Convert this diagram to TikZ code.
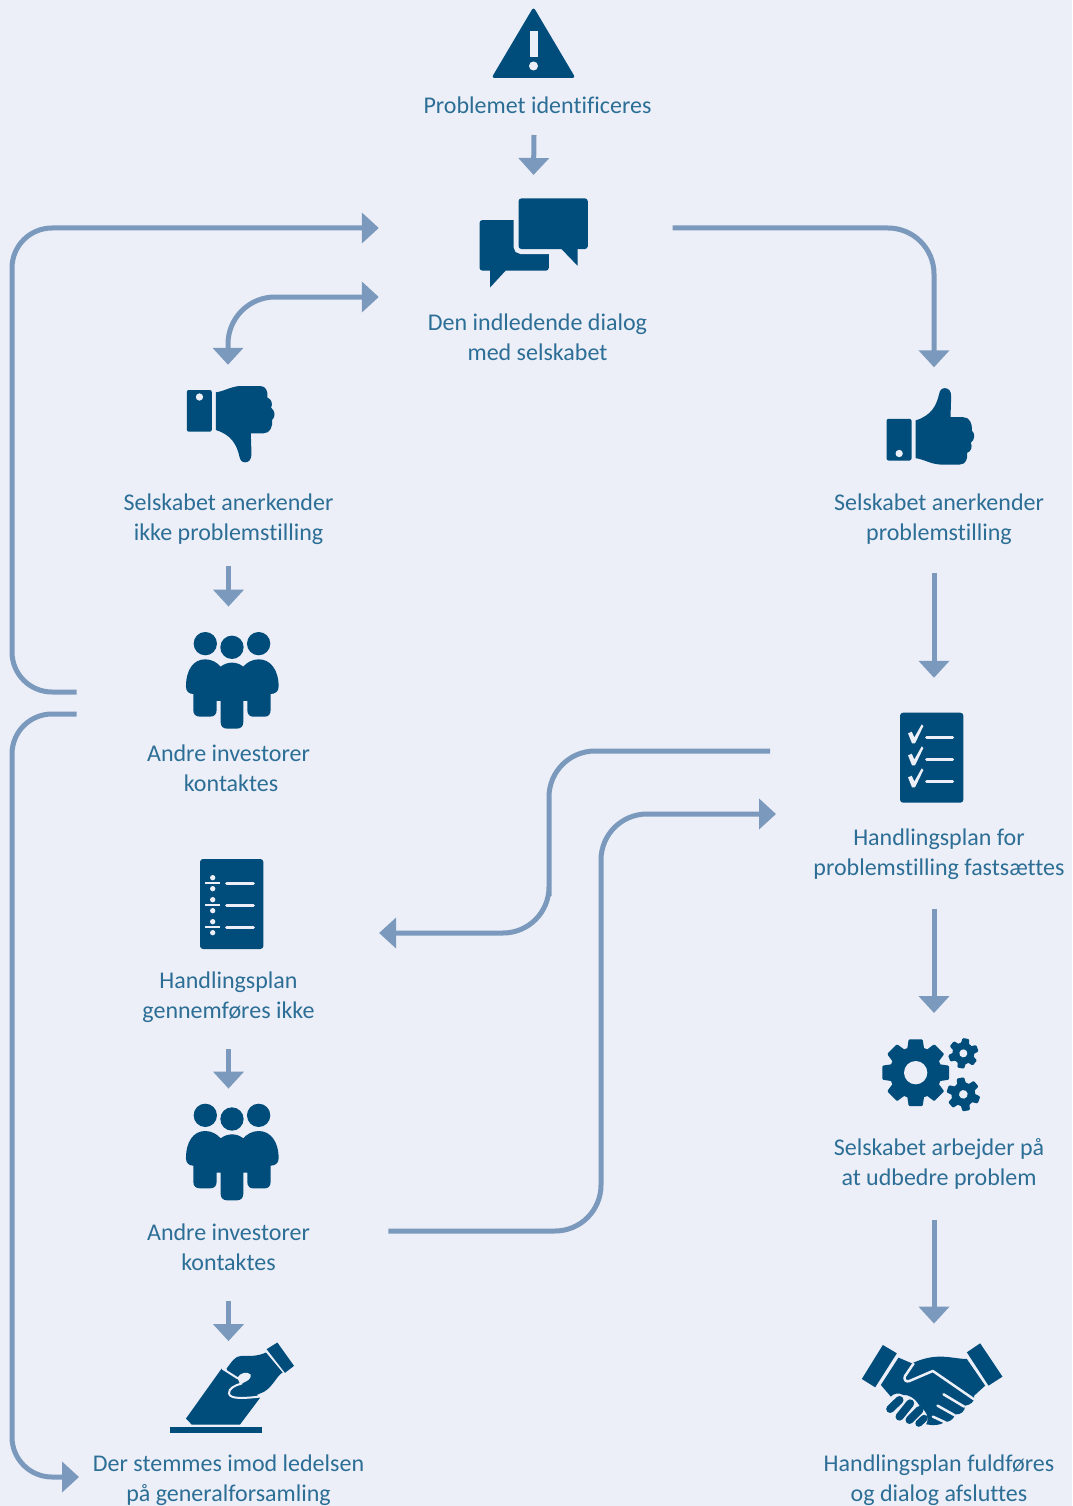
\documentclass[tikz,border=0pt]{standalone}
\usepackage{fontspec}
\setmainfont[Ligatures=NoCommon]{Carlito}
\usetikzlibrary{positioning}
\usetikzlibrary{arrows.meta}
\definecolor{bgblue}{HTML}{ECEFF7}
\definecolor{inkblue}{HTML}{004C7A}
\definecolor{flowblue}{HTML}{7B99BC}
\definecolor{txtblue}{HTML}{2C6E96}
\tikzset{
  txt/.style={align=center,inner sep=0pt,text=txtblue,font=\fontsize{24}{30}\selectfont},
  icon/.style={inner sep=0pt,minimum width=#1},
  flow/.style={->,>={Triangle[length=17pt,width=30pt]},line width=5pt,color=flowblue},
  pics/warnicon/.style={code={
    \fill[inkblue,rounded corners=3pt] (0,-36) -- (-42,35) -- (42,35) -- cycle;
    \fill[bgblue] (-4,-12) rectangle (4,14);
    \fill[bgblue] (0,23) circle (4.5);
  }},
  pics/dialogicon/.style={code={
    \begin{scope}[scale=1/3,shift={(-340,-728)}]
      \fill[inkblue,rounded corners=3pt] (178,660) rectangle (386,812);
      \fill[inkblue] (258,810) -- (210,862) -- (210,810) -- cycle;
      \draw[bgblue,line width=10pt,rounded corners=3pt] (295,595) rectangle (503,747);
      \fill[inkblue,rounded corners=3pt] (295,595) rectangle (503,747);
      \fill[inkblue] (422,745) -- (472,797) -- (472,745) -- cycle;
    \end{scope}
  }},
  pics/thumbicon/.style={code={
    \begin{scope}[scale=1/3,shift={(-212,-147)}]
      \fill[inkblue,rounded corners=2pt] (80,45) rectangle (155,170);
      \fill[bgblue] (118,66) circle (11);
      \fill[inkblue] (167,52) .. controls (195,48) and (210,35) .. (240,33) -- (300,33)
        .. controls (318,33) and (324,50) .. (322,68) .. controls (335,72) and (338,88) .. (333,98)
        .. controls (345,108) and (347,125) .. (336,135) .. controls (338,155) and (330,175) .. (310,175)
        -- (272,175) -- (274,235) .. controls (275,255) and (265,262) .. (255,262)
        .. controls (245,262) and (240,255) .. (238,245) .. controls (230,210) and (215,180) .. (167,165) -- cycle;
    \end{scope}
  }},
  pics/peopleicon/.style={code={
    \begin{scope}[scale=1/3,shift={(-217,-181)}]
      \fill[inkblue] (136,71) circle (35);
      \fill[inkblue] (296,71) circle (35);
      \fill[inkblue] (216,82) circle (35);
      \fill[inkblue] (78,200) .. controls (78,150) and (100,118) .. (136,118)
        .. controls (155,118) and (172,128) .. (182,140) .. controls (192,132) and (205,128) .. (216,128)
        .. controls (228,128) and (240,132) .. (250,140) .. controls (260,128) and (277,118) .. (296,118)
        .. controls (332,118) and (356,150) .. (356,200) .. controls (356,215) and (345,222) .. (332,222)
        -- (332,270) .. controls (332,283) and (325,290) .. (315,290) -- (279,290)
        .. controls (269,290) and (262,283) .. (262,270) -- (262,243) -- (250,243) -- (250,306)
        .. controls (250,319) and (243,326) .. (230,326) -- (202,326) .. controls (189,326) and (182,319) .. (182,306)
        -- (182,243) -- (170,243) -- (170,270) .. controls (170,283) and (163,290) .. (150,290) -- (120,290)
        .. controls (107,290) and (100,283) .. (100,270) -- (100,222) .. controls (88,222) and (78,215) .. (78,200) -- cycle;
    \end{scope}
  }},
  pics/checkicon/.style={code={
    \begin{scope}[scale=1/3,shift={(-185,-173)}]
      \fill[inkblue,rounded corners=3pt] (90,38) rectangle (280,308);
      \fill[bgblue] (114,100) -- (125,95) -- (133,112) -- (155,73) -- (160,78) -- (135,130) -- (126,130) -- cycle;
      \fill[bgblue] (114,166) -- (125,161) -- (133,178) -- (155,139) -- (160,144) -- (135,196) -- (126,196) -- cycle;
      \fill[bgblue] (114,232) -- (125,227) -- (133,244) -- (155,205) -- (160,210) -- (135,262) -- (126,262) -- cycle;
      \draw[bgblue,line width=3pt,line cap=round] (170,112) -- (248,112);
      \draw[bgblue,line width=3pt,line cap=round] (170,178) -- (248,178);
      \draw[bgblue,line width=3pt,line cap=round] (170,244) -- (248,244);
    \end{scope}
  }},
  pics/divideicon/.style={code={
    \begin{scope}[scale=1/3,shift={(-125,-162)}]
      \fill[inkblue,rounded corners=3pt] (30,27) rectangle (220,297);
      \fill[bgblue] (46,96) rectangle (90,102);
      \fill[bgblue] (68,83) circle (8);
      \fill[bgblue] (68,116) circle (8);
      \fill[bgblue] (46,162) rectangle (90,168);
      \fill[bgblue] (68,149) circle (8);
      \fill[bgblue] (68,182) circle (8);
      \fill[bgblue] (46,228) rectangle (90,234);
      \fill[bgblue] (68,215) circle (8);
      \fill[bgblue] (68,248) circle (8);
      \draw[bgblue,line width=3pt,line cap=round] (110,99) -- (190,99);
      \draw[bgblue,line width=3pt,line cap=round] (110,165) -- (190,165);
      \draw[bgblue,line width=3pt,line cap=round] (110,231) -- (190,231);
    \end{scope}
  }},
  pics/gearsicon/.style={code={
    \begin{scope}[scale=1/3,shift={(-186,-138)}]
      \begin{scope}[shift={(137,128)}]
        \fill[inkblue] (0,0) circle (78);
        \foreach \a in {0,45,...,315}
          \fill[inkblue,rotate=\a,rounded corners=1pt] (60,-27) -- (100,-21) -- (100,21) -- (60,27) -- cycle;
        \fill[bgblue] (0,0) circle (35);
      \end{scope}
      \begin{scope}[shift={(280,70)},rotate=-10]
        \fill[inkblue] (0,0) circle (33);
        \foreach \a in {30,90,...,330}
          \fill[inkblue,rotate=\a,rounded corners=1pt] (25,-13) -- (45,-10) -- (45,10) -- (25,13) -- cycle;
        \fill[bgblue] (0,0) circle (12);
      \end{scope}
      \begin{scope}[shift={(280,193)},rotate=10]
        \fill[inkblue] (0,0) circle (36);
        \foreach \a in {30,90,...,330}
          \fill[inkblue,rotate=\a,rounded corners=1pt] (27,-14) -- (50,-11) -- (50,11) -- (27,14) -- cycle;
        \fill[bgblue] (0,0) circle (13);
      \end{scope}
    \end{scope}
  }},
  pics/handsicon/.style={code={
    \begin{scope}[scale=1/3,shift={(-247,-151)}]
      \fill[inkblue] (98,30) -- (140,55) -- (75,157) -- (35,132) -- cycle;
      \fill[inkblue] (390,25) -- (457,125) -- (415,152) -- (350,52) -- cycle;
      \fill[inkblue] (92,150) -- (145,68) -- (185,85) .. controls (215,72) and (240,65) .. (270,65)
        .. controls (300,65) and (325,72) .. (350,72) -- (405,152) -- (372,182)
        .. controls (375,200) and (360,210) .. (345,212) .. controls (345,230) and (330,240) .. (315,238)
        .. controls (310,255) and (295,262) .. (285,260) .. controls (270,272) and (250,272) .. (228,268)
        .. controls (240,245) and (225,225) .. (208,212) .. controls (195,190) and (175,178) .. (160,180)
        .. controls (145,172) and (130,175) .. (122,185) -- cycle;
      \draw[inkblue,line width=8pt,line cap=round] (120,222) -- (148,195);
      \draw[inkblue,line width=8pt,line cap=round] (148,245) -- (180,205);
      \draw[inkblue,line width=8pt,line cap=round] (178,255) -- (208,225);
      \draw[inkblue,line width=7pt,line cap=round] (206,265) -- (222,250);
      \draw[bgblue,line width=2.5pt,line cap=round,line join=round] (190,86) -- (164,124)
        .. controls (160,135) and (168,142) .. (178,138) -- (248,108) -- (370,192);
      \draw[bgblue,line width=2.5pt,line cap=round] (280,178) -- (342,215);
      \draw[bgblue,line width=2.5pt,line cap=round] (262,212) -- (312,240);
      \draw[bgblue,line width=2.5pt,line cap=round] (248,245) -- (285,262);
    \end{scope}
  }},
  pics/ballot icon/.style={code={
    \begin{scope}[scale=1/3,shift={(-216,-157)}]
      \fill[inkblue] (30,276) rectangle (305,293);
      \fill[inkblue] (185,100) -- (78,250) -- (95,268) -- (240,268) -- (300,188) -- (232,130) -- cycle;
      \fill[inkblue] (352,22) -- (402,92) -- (375,113) -- (320,42) -- cycle;
      \fill[inkblue] (200,100) .. controls (215,80) and (225,62) .. (245,62) .. controls (265,62) and (290,65) .. (318,52)
        -- (368,112) .. controls (350,120) and (335,165) .. (300,175) .. controls (280,185) and (250,190) .. (215,185) -- cycle;
      \draw[bgblue,line width=2pt] (187,100) -- (234,130);
      \fill[bgblue] (232,128) .. controls (240,112) and (262,108) .. (272,118) .. controls (275,130) and (262,140) .. (240,146) -- cycle;
      \draw[bgblue,line width=2pt,line cap=round] (245,145) .. controls (225,150) and (205,160) .. (207,175)
        .. controls (210,192) and (250,190) .. (300,184);
    \end{scope}
  }}
}
\begin{document}
\begin{tikzpicture}[x=1pt,y=-1pt]

  \path[fill=bgblue,use as bounding box] (0,0) rectangle (1072,1506);

  % Midte
  \node[txt] (problem) at (537.5,105) {Problemet identificeres};
  \node[icon=86pt,minimum height=70pt] (warn) [above left=62pt and 4pt of problem.center,anchor=center] {};
  \node[icon=109pt,minimum height=89pt] (dialog) [below left=137.7pt and 4pt of problem.center,anchor=center] {};
  \node[txt] (dialogtxt) [below=232pt of problem.center,anchor=center] {Den indledende dialog\\med selskabet};

  % Venstre
  \node[icon=88pt,minimum height=76pt] (thumbdown) [below left=87pt and 306.7pt of dialogtxt.center,anchor=center] {};
  \node[txt] (downtxt) [below left=95pt and 2.3pt of thumbdown.center,anchor=center] {Selskabet anerkender\\ikke problemstilling};
  \node[icon=93pt,minimum height=97pt] (people1) [below right=161.3pt and 3.8pt of downtxt.center,anchor=center] {};
  \node[txt] (people1txt) [below left=87.7pt and 3.8pt of people1.center,anchor=center] {Andre investorer\\\hspace*{5pt}kontaktes};
  \node[icon=63pt,minimum height=90pt] (divide) [below right=136pt and 3.2pt of people1txt.center,anchor=center] {};
  \node[txt] (ikketxt) [below left=93pt and 3.2pt of divide.center,anchor=center] {Handlingsplan\\gennemføres ikke};
  \node[icon=93pt,minimum height=97pt] (people2) [below right=155pt and 3.8pt of ikketxt.center,anchor=center] {};
  \node[txt] (people2txt) [below left=95pt and 3.8pt of people2.center,anchor=center] {Andre investorer\\kontaktes};
  \node[icon=124pt,minimum height=91pt] (ballot) [below right=140.5pt and 3.5pt of people2txt.center,anchor=center] {};
  \node[txt] (ballottxt) [below left=92.5pt and 3.5pt of ballot.center,anchor=center] {Der stemmes imod ledelsen\\på generalforsamling};

  % Hoejre
  \node[icon=88pt,minimum height=76pt] (thumbup) [below right=183.8pt and 397pt of dialog.center,anchor=center] {};
  \node[txt] (uptxt) [below right=92.5pt and 8.5pt of thumbup.center,anchor=center] {Selskabet anerkender\\problemstilling};
  \node[icon=63pt,minimum height=90pt] (checks) [below left=238.7pt and 7.3pt of uptxt.center,anchor=center] {};
  \node[txt] (checktxt) [below right=96.8pt and 7.3pt of checks.center,anchor=center] {Handlingsplan for\\problemstilling fastsættes};
  \node[icon=99pt,minimum height=75pt] (gears) [below left=221.5pt and 7pt of checktxt.center,anchor=center] {};
  \node[txt] (gearstxt) [below right=88pt and 7pt of gears.center,anchor=center] {Selskabet arbejder på\\at udbedre problem};
  \node[icon=141pt,minimum height=85pt] (hands) [below left=221.3pt and 6.5pt of gearstxt.center,anchor=center] {};
  \node[txt] (handstxt) [below right=94.7pt and 6.5pt of hands.center,anchor=center] {Handlingsplan fuldføres\\og dialog afsluttes};

  \coordinate (railup) at (12,500);
  \coordinate (raildown) at (12,1000);
  \coordinate (railmid) at (549,850);
  \coordinate (railright) at (601,1000);

  \pic at (warn) {warnicon};
  \pic at (dialog) {dialogicon};
  \pic at (thumbdown) {thumbicon};
  \pic[yscale=-1] at (thumbup) {thumbicon};
  \pic at (people1) {peopleicon};
  \pic at (people2) {peopleicon};
  \pic at (divide) {divideicon};
  \pic at (checks) {checkicon};
  \pic at (gears) {gearsicon};
  \pic at (hands) {handsicon};
  \pic at (ballot) {ballot icon};

  \path[flow]
    ([xshift=-3.5pt,yshift=-30pt]problem.center) edge ([yshift=23pt]dialog.north)
    ([yshift=-47pt]downtxt.center) edge ([yshift=25pt]downtxt.center |- people1.north)
    ([yshift=-52pt]ikketxt.center) edge ([yshift=14.7pt]ikketxt.center |- people2.north)
    ([yshift=-54pt]people2txt.center) edge ([yshift=0.7pt]people2txt.center |- ballot.north)
    ([xshift=-5pt,yshift=-54pt]uptxt.center) edge ([xshift=-5pt,yshift=34.7pt]uptxt.center |- checks.north)
    ([xshift=-5pt,yshift=-54.5pt]checktxt.center) edge ([xshift=-5pt,yshift=25.3pt]checktxt.center |- gears.north)
    ([xshift=-5pt,yshift=-56pt]gearstxt.center) edge ([xshift=-5pt,yshift=19pt]gearstxt.center |- hands.north);

  \draw[flow,rounded corners=40pt] ([xshift=-109pt,yshift=-11.7pt]people1.west) -| (railup) |- ([xshift=-100pt,yshift=14.7pt]dialog.west);
  \draw[flow,rounded corners=40pt] ([xshift=-109pt,yshift=-33.7pt]people1.west) -| (raildown) |- ([xshift=-149.5pt,yshift=3pt]ballottxt.center);
  \draw[flow,<->,rounded corners=47pt] ([xshift=-2.8pt,yshift=21pt]thumbdown.north) |- ([xshift=-100pt,yshift=-54.3pt]dialog.west);
  \draw[flow,rounded corners=46pt] ([xshift=84.3pt,yshift=14.7pt]dialog.east) -| ([xshift=3.5pt,yshift=21pt]thumbup.north);
  \draw[flow,rounded corners=46pt] ([xshift=-130pt,yshift=6.7pt]checks.west) -| (railmid) |- ([xshift=115.7pt,yshift=-29pt]divide.east);
  \draw[flow,rounded corners=46pt] ([xshift=109.3pt,yshift=-79pt]people2.east) -| (railright) |- ([xshift=-124pt,yshift=-56.3pt]checks.west);

\end{tikzpicture}
\end{document}
